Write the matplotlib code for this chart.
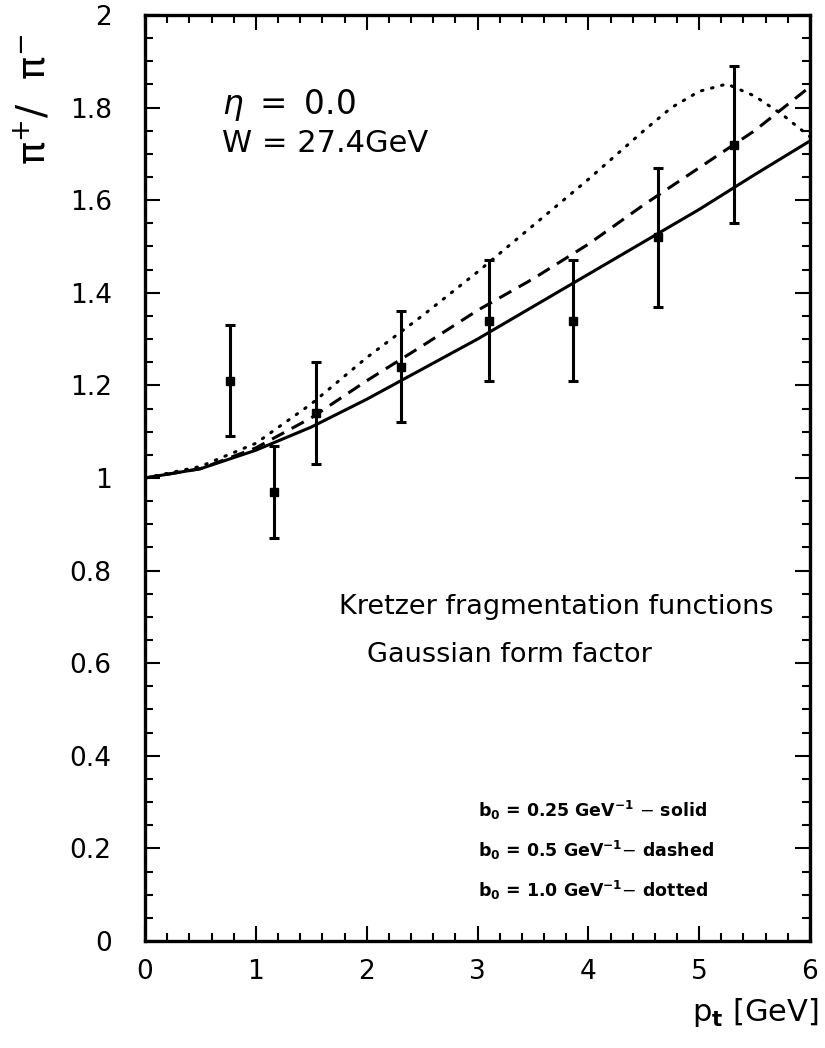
import matplotlib
matplotlib.use("Agg")
import matplotlib.pyplot as plt
from matplotlib.ticker import MultipleLocator

# data points with errors
pt_data = [0.77, 1.16, 1.54, 2.31, 3.10, 3.86, 4.63, 5.31]
ratio_data = [1.21, 0.97, 1.14, 1.24, 1.34, 1.34, 1.52, 1.72]
ratio_err = [0.12, 0.10, 0.11, 0.12, 0.13, 0.13, 0.15, 0.17]

# model curves (b0 = 0.25, 0.5, 1.0 GeV^-1)
pt_curve = [0.0, 0.5, 1.0, 1.5, 2.0, 2.5, 3.0, 3.5, 4.0, 4.5, 5.0, 5.5, 6.0]
solid = [1.0, 1.02, 1.06, 1.11, 1.17, 1.235, 1.30, 1.37, 1.44, 1.51, 1.58, 1.655, 1.728]
dashed = [1.0, 1.02, 1.065, 1.13, 1.21, 1.285, 1.362, 1.43, 1.505, 1.59, 1.67, 1.75, 1.845]
pt_dot = [0.0, 0.5, 1.0, 1.5, 2.0, 2.5, 3.0, 3.5, 4.0, 4.5, 4.75, 5.0, 5.25, 5.5, 5.75, 6.0]
dotted = [1.0, 1.025, 1.075, 1.16, 1.26, 1.35, 1.445, 1.545, 1.645, 1.75, 1.80, 1.835, 1.851, 1.825, 1.785, 1.737]

legend_lines = [r'b$_\mathbf{0}$ = 0.25 GeV$^{\mathbf{-1}}$ $-$ solid',
                r'b$_\mathbf{0}$ = 0.5 GeV$^{\mathbf{-1}}$$-$ dashed',
                r'b$_\mathbf{0}$ = 1.0 GeV$^{\mathbf{-1}}$$-$ dotted']

plt.rcParams['font.family'] = 'DejaVu Sans'
fig = plt.figure(figsize=(8.25, 10.48), dpi=100)
ax = fig.add_axes([0.1758, 0.1021, 0.806, 0.8836])

lw = 2.2
ax.plot(pt_curve, solid, 'k-', lw=lw)
ax.plot(pt_curve, dashed, 'k', lw=lw, linestyle=(0, (4.5, 2.8)))
ax.plot(pt_dot, dotted, 'k', lw=lw, linestyle=(0, (0.5, 2.9)), dash_capstyle='round')
ax.errorbar(pt_data, ratio_data, yerr=ratio_err, fmt='s', color='k', ms=6,
            elinewidth=2.2, capsize=3.5, capthick=2.2)

ax.set_xlim(0, 6)
ax.set_ylim(0, 2)
ax.xaxis.set_major_locator(MultipleLocator(1))
ax.xaxis.set_minor_locator(MultipleLocator(0.2))
ax.yaxis.set_major_locator(MultipleLocator(0.2))
ax.yaxis.set_minor_locator(MultipleLocator(0.05))
ax.yaxis.set_major_formatter(plt.FuncFormatter(lambda v, p: ('%g' % round(v, 2))))
ax.tick_params(which='both', direction='in', top=True, right=True, width=1.5,
               labelsize=19)
ax.tick_params(which='major', length=11)
ax.tick_params(axis='y', which='major', pad=24)
ax.tick_params(axis='x', which='major', pad=13)
ax.tick_params(which='minor', length=6)
for s in ax.spines.values():
    s.set_linewidth(2.4)

ax.text(-0.167, 0.98, 'π$^{+}$/  π$^{-}$', transform=ax.transAxes, rotation=90,
        ha='center', va='top', fontsize=28)
ax.text(1.013, -0.077, r'p$_\mathbf{t}$ [GeV]', transform=ax.transAxes,
        ha='right', va='center', fontsize=22)

ax.text(0.69, 1.805, r'$\eta\ =\ $0.0', fontsize=23.5, va='center')
ax.text(0.69, 1.722, 'W = 27.4GeV', fontsize=22, va='center')
ax.text(3.71, 0.721, 'Kretzer fragmentation functions', fontsize=19.5, ha='center', va='center')
ax.text(3.29, 0.618, 'Gaussian form factor', fontsize=19.5, ha='center', va='center')

for i, t in enumerate(legend_lines):
    ax.text(3.0, 0.281 - i * 0.0855, t, fontsize=12.5, fontweight='bold', va='center')

fig.savefig('out.png', dpi=100)
